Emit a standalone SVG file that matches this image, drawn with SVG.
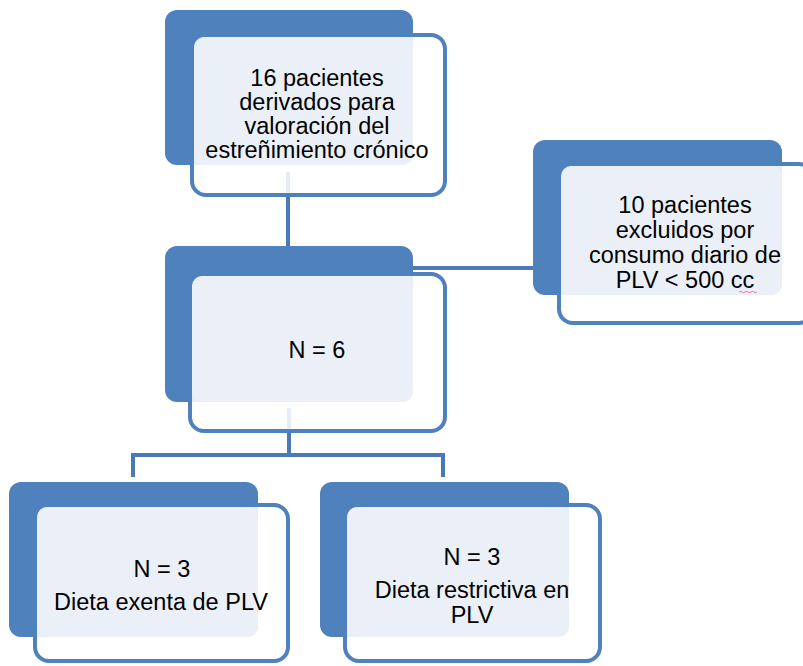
<svg xmlns="http://www.w3.org/2000/svg" width="803" height="666" viewBox="0 0 803 666">
<style>
.dark{fill:#4F81BD}
.outline{fill:#FFFFFF;fill-opacity:0.86;stroke:#4F81BD;stroke-width:4}
.light{fill:#EBF0F8}
.conn{fill:none;stroke:#4A7AB5;stroke-width:4;stroke-linecap:butt}
text{font-family:"Liberation Sans",Arial,sans-serif;font-size:23.5px;fill:#000;text-anchor:middle}
</style>
<rect width="803" height="666" fill="#FFFFFF"/>
<g id="connectors">
<path class="conn" d="M288,172 V250"/>
<path class="conn" d="M413,268 H535"/>
<path class="conn" d="M289,408 V455 M133,477 V455 H443 V477"/>
</g>
<g id="node-top">
<rect class="dark" x="165" y="10" width="248" height="155" rx="12"/>
<rect class="outline" x="192" y="35" width="253" height="160" rx="14"/>
<rect class="light" x="194" y="37" width="219" height="128" rx="10"/>
<text x="317" y="86">16 pacientes</text>
<text x="317" y="110">derivados para</text>
<text x="317" y="134">valoración del</text>
<text x="317" y="158">estreñimiento crónico</text>
</g>
<g id="node-excluded">
<rect class="dark" x="533" y="140" width="249" height="155" rx="12"/>
<rect class="outline" x="559" y="164" width="254" height="159" rx="14"/>
<rect class="light" x="561" y="166" width="221" height="129" rx="10"/>
<text x="685" y="213">10 pacientes</text>
<text x="685" y="238">excluidos por</text>
<text x="685" y="263">consumo diario de</text>
<text x="685" y="288">PLV &lt; 500 cc</text>
<path d="M739,292 q1.5,-1.5 3,0 t3,0 t3,0 t3,0 t3,0 t3,0" fill="none" stroke="#E06070" stroke-width="0.8"/>
</g>
<g id="node-n6">
<rect class="dark" x="165" y="246" width="248" height="156" rx="12"/>
<rect class="outline" x="190" y="274" width="255" height="157" rx="14"/>
<rect class="light" x="192" y="276" width="221" height="126" rx="10"/>
<text x="317" y="358">N = 6</text>
</g>
<g id="node-exenta">
<rect class="dark" x="9" y="482" width="249" height="155" rx="12"/>
<rect class="outline" x="35" y="505" width="253" height="156" rx="14"/>
<rect class="light" x="37" y="507" width="221" height="130" rx="10"/>
<text x="162" y="577">N = 3</text>
<text x="161" y="610">Dieta exenta de PLV</text>
</g>
<g id="node-restrictiva">
<rect class="dark" x="320" y="482" width="249" height="155" rx="12"/>
<rect class="outline" x="345" y="505" width="255" height="156" rx="14"/>
<rect class="light" x="347" y="507" width="222" height="130" rx="10"/>
<text x="472" y="565">N = 3</text>
<text x="472" y="598">Dieta restrictiva en</text>
<text x="472" y="623">PLV</text>
</g>
</svg>
